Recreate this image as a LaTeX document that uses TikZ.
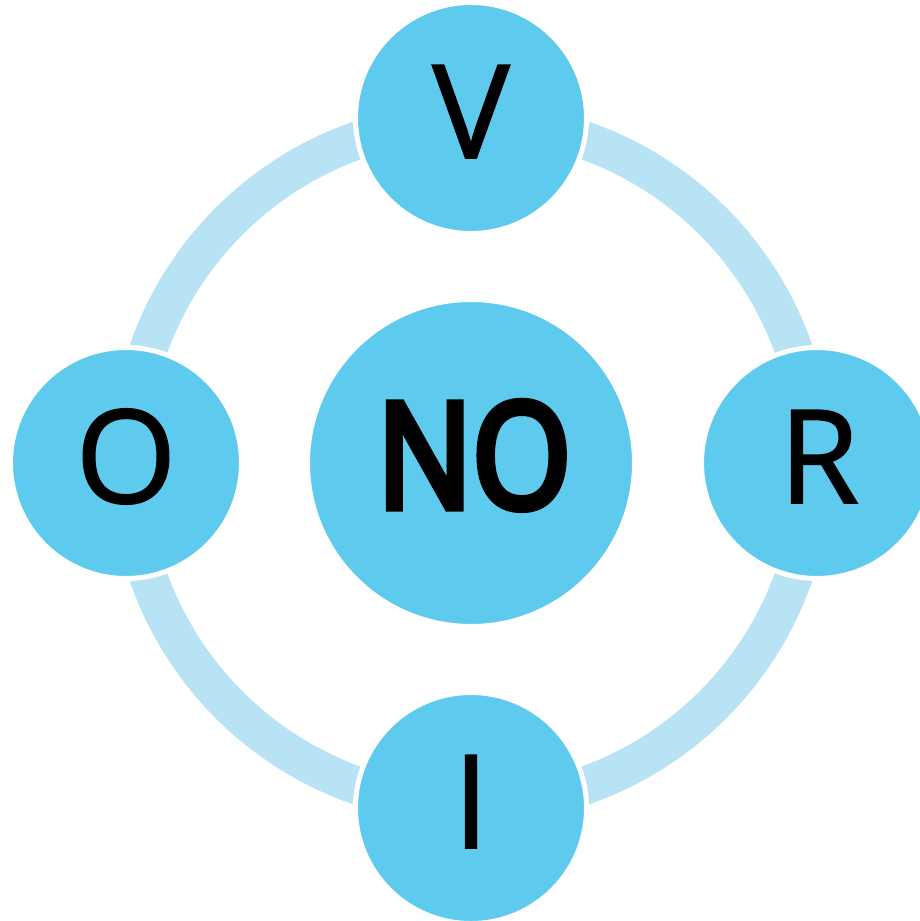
\documentclass[tikz,border=0pt]{standalone}
\usepackage{fontspec}
\setmainfont{Open Sans}
\newfontfamily\lettfont[FakeBold=1.2]{Open Sans}
\newfontfamily\nofont[FakeBold=5,FakeStretch=0.86]{Open Sans}
\definecolor{ringblue}{RGB}{183,227,245}
\definecolor{dotblue}{RGB}{94,203,238}
\tikzset{
  ringline/.style={draw=ringblue, line width=38pt},
  bubble/.style={circle, fill=dotblue, draw=white, line width=5pt, inner sep=0pt},
  lbl/.style={anchor=base, inner sep=0pt, text=black, font=\lettfont\fontsize{130}{150}\selectfont},
  lblbig/.style={anchor=base, inner sep=0pt, text=black, font=\nofont\fontsize{147}{170}\selectfont}
}
\begin{document}
\begin{tikzpicture}[x=1pt,y=-1pt]
\useasboundingbox (0,0) rectangle (920,921);
\coordinate (ctr) at (471,463);
\draw[ringline] (ctr) circle[radius=342];
\node[bubble, minimum size=231pt] (v) at (471,118) {};
\node[bubble, minimum size=231pt] (o) at (126,463) {};
\node[bubble, minimum size=231pt] (r) at (817,463) {};
\node[bubble, minimum size=231pt] (i) at (471,808) {};
\node[bubble, minimum size=327pt] (no) at (ctr) {};
\node[lbl] (tv) at (471,158) {V};
\node[lbl] (to) at (126,503) {O};
\node[lbl] (tr) at (819,503) {R};
\node[lbl] (ti) at (471,848) {I};
\node[lblbig] (tno) at (474,508) {NO};
\end{tikzpicture}
\end{document}
